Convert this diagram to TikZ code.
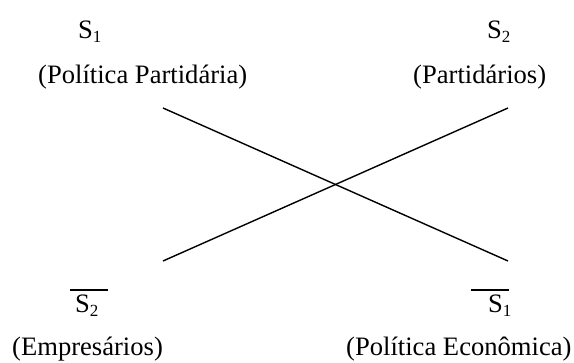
\documentclass[tikz,border=0pt]{standalone}
\usepackage{fontspec}
\setmainfont{Liberation Serif}
\newcommand\subdig[1]{\raisebox{-0.12em}{\fontsize{17}{17}\selectfont #1}}
\newcommand\barsym[3]{\rlap{\rule[0.84em]{#2}{1.4pt}}\hspace*{#1}S\subdig{#3}}
\begin{document}
\begin{tikzpicture}[x=1pt,y=-1pt,
  lbl/.style={anchor=base west,inner sep=0pt,font=\fontsize{26.6}{30}\selectfont},
  link/.style={draw=black,line width=1.4pt}]
\useasboundingbox (0,0) rectangle (574,363);
\node[lbl] (s1) at (78,39) {S\subdig{1}};
\node[lbl] (t1) at (38,84) {(Política Partidária)};
\node[lbl] (s2) at (487,39) {S\subdig{2}};
\node[lbl] (t2) at (413,84) {(Partidários)};
\node[lbl] (ns2) at (70,313) {\barsym{5pt}{38pt}{2}};
\node[lbl] (t3) at (12,356) {(Empresários)};
\node[lbl] (ns1) at (471,313) {\barsym{17pt}{38pt}{1}};
\node[lbl] (t4) at (346,356) {(Política Econômica)};
\coordinate (a1) at (163,108);
\coordinate (a2) at (508,261);
\coordinate (b1) at (163,261);
\coordinate (b2) at (508,108);
\draw[link] (a1) -- (a2);
\draw[link] (b1) -- (b2);
\end{tikzpicture}
\end{document}
